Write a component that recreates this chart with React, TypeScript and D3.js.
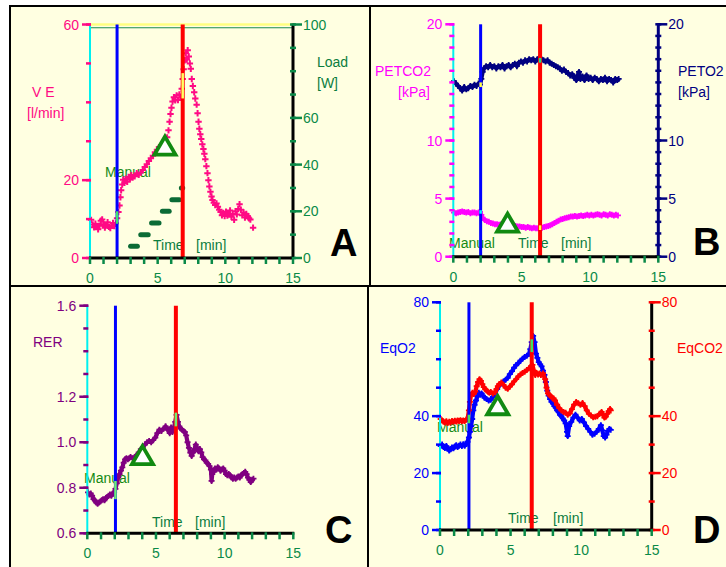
import React from "react";
import * as d3 from "d3";

// ---------- shared time axis ----------
const timeDomain: [number, number] = [0, 15];
const timeTickLabels = [0, 5, 10, 15];

// ---------- panel A : ventilation (l/min) and load (W) ----------
const veTickLabels = [0, 20, 60];
const loadTickLabels = [0, 20, 40, 60, 100];
const ve: [number, number][] = [
  [0.08, 9.8], [0.2, 8.6], [0.3, 7.9], [0.4, 8.8], [0.5, 8.1], [0.6, 7.4], [0.7, 8.3], [0.8, 9.6],
  [0.9, 9.9], [1.0, 8.7], [1.1, 7.8], [1.2, 8.5], [1.3, 9.2], [1.4, 8.0], [1.5, 7.7], [1.6, 8.4],
  [1.7, 9.0], [1.8, 8.2], [1.9, 8.9], [2.0, 10.2], [2.1, 11.8], [2.18, 13.5], [2.25, 15.6], [2.3, 17.4],
  [2.38, 18.9], [2.45, 20.1], [2.55, 19.3], [2.65, 20.4], [2.75, 19.6], [2.85, 20.8], [2.95, 20.2],
  [3.05, 21.3], [3.15, 20.7], [3.3, 21.0], [3.45, 21.8], [3.6, 21.4], [3.75, 22.0], [3.9, 22.6],
  [4.05, 23.4], [4.2, 24.1], [4.35, 24.9], [4.5, 25.6], [4.65, 26.3], [4.8, 27.2], [4.95, 27.8],
  [5.1, 28.5], [5.25, 29.0], [5.4, 29.6], [5.55, 30.4], [5.7, 31.0], [5.8, 32.8], [5.88, 35.0],
  [5.95, 37.0], [6.02, 38.6], [6.1, 40.2], [6.2, 41.3], [6.3, 40.5], [6.4, 41.8], [6.5, 40.6],
  [6.6, 42.0], [6.7, 41.2], [6.78, 43.5], [6.85, 46.0], [6.92, 48.5], [7.0, 50.8], [7.08, 52.6],
  [7.15, 51.0], [7.22, 53.4], [7.3, 51.8], [7.38, 50.0], [7.45, 48.6], [7.52, 46.0], [7.6, 44.2],
  [7.7, 42.6], [7.78, 41.0], [7.88, 39.4], [7.95, 37.2], [8.02, 35.0], [8.08, 33.2], [8.15, 31.8],
  [8.22, 30.6], [8.3, 29.2], [8.38, 28.0], [8.45, 26.8], [8.52, 25.4], [8.6, 23.6], [8.68, 21.8],
  [8.75, 20.0], [8.82, 18.4], [8.9, 17.0], [8.98, 15.8], [9.05, 14.9], [9.15, 14.2], [9.25, 13.6],
  [9.35, 14.0], [9.45, 13.2], [9.55, 12.4], [9.65, 11.8], [9.75, 11.0], [9.85, 11.6], [9.95, 10.8],
  [10.05, 11.9], [10.15, 10.9], [10.25, 11.4], [10.35, 12.2], [10.45, 10.6], [10.55, 11.3],
  [10.65, 9.8], [10.75, 12.0], [10.85, 11.2], [10.95, 12.6], [11.05, 13.8], [11.15, 12.4],
  [11.25, 11.0], [11.35, 11.7], [11.45, 10.4], [11.55, 11.3], [11.65, 10.8], [11.75, 10.2],
  [11.85, 9.9], [12.05, 7.8],
];
const loadLevels = [5, 10, 15, 20, 25, 30];
const loadStart = [3.0, 3.75, 4.55, 5.35, 6.05, 6.75];
const loadEnd = [3.5, 4.3, 5.1, 5.85, 6.6, 6.85];

// ---------- panel B : end-tidal pressures (kPa) ----------
const petTickLabels = [0, 5, 10, 20];
const peto2: [number, number][] = [
  [0.05, 15.1], [0.2, 14.9], [0.35, 14.7], [0.5, 14.5], [0.65, 14.3], [0.8, 14.6], [0.95, 14.4],
  [1.1, 14.5], [1.25, 14.7], [1.4, 14.6], [1.55, 14.8], [1.7, 14.7], [1.85, 14.9], [1.95, 14.8],
  [2.05, 15.3], [2.15, 15.9], [2.25, 16.2], [2.4, 16.4], [2.55, 16.3], [2.7, 16.5], [2.85, 16.3],
  [3.0, 16.4], [3.15, 16.2], [3.3, 16.4], [3.45, 16.3], [3.6, 16.5], [3.75, 16.2], [3.9, 16.4],
  [4.05, 16.5], [4.2, 16.3], [4.35, 16.5], [4.5, 16.6], [4.65, 16.4], [4.8, 16.7], [4.95, 16.8],
  [5.1, 16.7], [5.25, 16.9], [5.4, 16.8], [5.55, 17.0], [5.7, 16.9], [5.85, 17.0], [6.0, 16.8],
  [6.15, 17.0], [6.3, 17.1], [6.45, 17.0], [6.6, 16.9], [6.75, 16.8], [6.9, 16.9], [7.05, 16.7],
  [7.2, 16.6], [7.35, 16.5], [7.5, 16.4], [7.65, 16.3], [7.8, 16.2], [7.95, 16.0], [8.1, 16.1],
  [8.25, 15.9], [8.4, 15.8], [8.55, 15.6], [8.7, 15.7], [8.85, 15.4], [9.0, 15.2], [9.1, 15.6],
  [9.2, 15.9], [9.3, 15.3], [9.45, 15.5], [9.6, 15.2], [9.75, 15.6], [9.9, 15.3], [10.05, 15.4],
  [10.2, 15.2], [10.35, 15.4], [10.5, 15.3], [10.65, 15.1], [10.8, 15.3], [10.95, 15.2],
  [11.1, 15.4], [11.25, 15.1], [11.4, 15.3], [11.55, 15.2], [11.7, 15.0], [11.85, 15.3],
  [12.0, 15.2], [12.1, 15.3],
];
const petco2: [number, number][] = [
  [0.05, 3.8], [0.2, 3.75], [0.35, 3.8], [0.5, 3.85], [0.65, 3.9], [0.8, 3.85], [0.95, 3.8],
  [1.1, 3.85], [1.25, 3.75], [1.4, 3.8], [1.55, 3.8], [1.7, 3.75], [1.85, 3.8], [1.95, 3.85],
  [2.05, 3.6], [2.15, 3.35], [2.3, 3.15], [2.45, 3.05], [2.6, 3.0], [2.75, 2.9], [2.9, 2.85],
  [3.05, 2.8], [3.2, 2.8], [3.35, 2.75], [3.5, 2.8], [3.65, 2.75], [3.8, 2.8], [3.95, 2.75],
  [4.1, 2.7], [4.25, 2.75], [4.4, 2.7], [4.55, 2.65], [4.7, 2.6], [4.85, 2.6], [5.0, 2.55],
  [5.15, 2.55], [5.3, 2.5], [5.45, 2.55], [5.6, 2.5], [5.75, 2.45], [5.9, 2.5], [6.05, 2.45],
  [6.2, 2.45], [6.35, 2.4], [6.5, 2.5], [6.65, 2.55], [6.8, 2.6], [6.95, 2.65], [7.1, 2.7],
  [7.25, 2.8], [7.4, 2.9], [7.55, 3.0], [7.7, 3.1], [7.85, 3.2], [8.0, 3.25], [8.15, 3.3],
  [8.3, 3.35], [8.45, 3.4], [8.6, 3.45], [8.75, 3.45], [8.9, 3.5], [9.05, 3.45], [9.2, 3.5],
  [9.35, 3.55], [9.5, 3.5], [9.65, 3.55], [9.8, 3.6], [9.95, 3.55], [10.1, 3.6], [10.25, 3.55],
  [10.4, 3.6], [10.55, 3.65], [10.7, 3.6], [10.85, 3.55], [11.0, 3.65], [11.15, 3.6], [11.3, 3.55],
  [11.45, 3.65], [11.6, 3.6], [11.75, 3.55], [11.9, 3.6], [12.05, 3.55],
];

// ---------- panel C : respiratory exchange ratio ----------
const rerTickLabels = [0.6, 0.8, 1.0, 1.2, 1.6];
const rer: [number, number][] = [
  [0.05, 0.78], [0.15, 0.77], [0.25, 0.775], [0.35, 0.765], [0.45, 0.75], [0.55, 0.745],
  [0.65, 0.735], [0.75, 0.73], [0.85, 0.735], [0.95, 0.74], [1.05, 0.745], [1.15, 0.75],
  [1.25, 0.745], [1.35, 0.755], [1.45, 0.76], [1.55, 0.765], [1.65, 0.77], [1.75, 0.765],
  [1.85, 0.775], [1.95, 0.78], [2.05, 0.795], [2.15, 0.82], [2.25, 0.845], [2.35, 0.86],
  [2.45, 0.875], [2.55, 0.89], [2.65, 0.91], [2.75, 0.925], [2.85, 0.93], [2.95, 0.925],
  [3.05, 0.93], [3.15, 0.935], [3.3, 0.93], [3.45, 0.935], [3.6, 0.945], [3.75, 0.955],
  [3.9, 0.97], [4.05, 0.98], [4.2, 0.99], [4.35, 1.0], [4.5, 1.005], [4.65, 1.0], [4.8, 1.01],
  [4.95, 1.02], [5.1, 1.04], [5.25, 1.055], [5.4, 1.05], [5.55, 1.06], [5.7, 1.07], [5.85, 1.055],
  [6.0, 1.04], [6.1, 1.065], [6.2, 1.045], [6.3, 1.06], [6.4, 1.09], [6.5, 1.12], [6.6, 1.09],
  [6.7, 1.07], [6.8, 1.06], [6.9, 1.055], [7.0, 1.05], [7.1, 1.045], [7.2, 1.03], [7.3, 1.0],
  [7.4, 0.975], [7.5, 0.955], [7.6, 0.94], [7.7, 0.955], [7.8, 0.97], [7.9, 0.99], [8.0, 0.975],
  [8.1, 0.96], [8.2, 0.97], [8.3, 0.955], [8.4, 0.935], [8.5, 0.925], [8.6, 0.92], [8.7, 0.91],
  [8.8, 0.905], [8.9, 0.895], [9.0, 0.88], [9.05, 0.83], [9.1, 0.86], [9.2, 0.87], [9.3, 0.885],
  [9.4, 0.88], [9.5, 0.89], [9.6, 0.885], [9.7, 0.875], [9.8, 0.88], [9.9, 0.885], [10.0, 0.875],
  [10.1, 0.86], [10.2, 0.855], [10.3, 0.86], [10.4, 0.855], [10.5, 0.845], [10.6, 0.84],
  [10.7, 0.845], [10.8, 0.84], [10.9, 0.845], [11.0, 0.85], [11.1, 0.845], [11.2, 0.855],
  [11.3, 0.86], [11.4, 0.865], [11.5, 0.87], [11.6, 0.86], [11.7, 0.845], [11.8, 0.835],
  [11.9, 0.825], [12.0, 0.835], [12.1, 0.84],
];

// ---------- panel D : ventilatory equivalents ----------
const eqTickLabels = [0, 20, 40, 80];
const eqo2: [number, number][] = [
  [0.05, 29.5], [0.15, 30.0], [0.25, 29.2], [0.35, 28.8], [0.45, 29.5], [0.55, 28.6], [0.65, 27.9],
  [0.75, 28.4], [0.85, 29.0], [0.95, 28.7], [1.05, 29.3], [1.15, 29.8], [1.25, 29.2], [1.35, 29.6],
  [1.45, 30.0], [1.55, 29.5], [1.65, 30.1], [1.75, 29.6], [1.85, 30.2], [1.95, 31.0], [2.05, 32.5],
  [2.12, 34.5], [2.2, 36.5], [2.28, 39.0], [2.36, 42.0], [2.45, 44.0], [2.55, 45.5], [2.65, 47.0],
  [2.75, 48.2], [2.85, 47.5], [2.95, 48.0], [3.05, 47.2], [3.15, 46.5], [3.3, 46.0], [3.45, 45.5],
  [3.6, 45.8], [3.75, 46.8], [3.9, 48.0], [4.05, 49.5], [4.2, 50.8], [4.35, 51.5], [4.5, 52.2],
  [4.65, 52.8], [4.8, 53.5], [4.95, 54.8], [5.1, 55.8], [5.25, 57.0], [5.4, 58.0], [5.55, 58.6],
  [5.7, 59.5], [5.85, 60.2], [6.0, 60.8], [6.15, 61.2], [6.3, 61.8], [6.4, 63.5], [6.5, 66.0],
  [6.6, 68.2], [6.7, 66.0], [6.8, 62.0], [6.9, 60.5], [7.0, 59.0], [7.1, 58.2], [7.2, 57.5],
  [7.3, 56.0], [7.4, 54.5], [7.5, 52.0], [7.6, 49.0], [7.7, 47.2], [7.8, 46.0], [7.9, 45.0],
  [8.0, 44.5], [8.1, 43.5], [8.2, 43.0], [8.3, 42.0], [8.4, 41.5], [8.5, 40.5], [8.6, 40.0],
  [8.7, 39.2], [8.8, 38.5], [8.9, 37.5], [9.0, 34.5], [9.05, 33.0], [9.15, 36.5], [9.3, 38.0],
  [9.45, 39.5], [9.6, 40.5], [9.75, 39.5], [9.9, 38.5], [10.05, 39.0], [10.2, 37.8], [10.35, 36.5],
  [10.5, 35.5], [10.65, 34.5], [10.8, 33.5], [10.95, 33.8], [11.1, 34.5], [11.25, 35.5],
  [11.4, 36.8], [11.5, 35.0], [11.6, 33.0], [11.7, 32.5], [11.8, 33.5], [11.9, 34.8], [12.0, 35.5],
  [12.1, 35.2],
];
const eqco2: [number, number][] = [
  [0.05, 39.0], [0.15, 38.5], [0.25, 38.0], [0.35, 37.8], [0.45, 38.2], [0.55, 37.6], [0.65, 38.0],
  [0.75, 37.8], [0.85, 38.3], [0.95, 38.0], [1.05, 38.4], [1.15, 38.1], [1.25, 38.5], [1.35, 38.3],
  [1.45, 38.6], [1.55, 38.2], [1.65, 38.5], [1.75, 38.3], [1.85, 38.7], [1.95, 39.0], [2.05, 42.0],
  [2.12, 45.0], [2.2, 47.5], [2.3, 48.2], [2.4, 47.8], [2.5, 48.6], [2.6, 50.5], [2.7, 52.0],
  [2.8, 53.0], [2.9, 52.4], [3.0, 51.2], [3.1, 50.2], [3.2, 49.5], [3.3, 49.0], [3.4, 48.6],
  [3.5, 48.2], [3.6, 48.5], [3.75, 48.0], [3.9, 48.4], [4.0, 49.5], [4.1, 50.5], [4.2, 51.3],
  [4.35, 51.8], [4.5, 51.0], [4.65, 50.0], [4.8, 49.6], [4.95, 50.4], [5.1, 51.2], [5.25, 52.2],
  [5.4, 53.0], [5.55, 54.0], [5.7, 54.6], [5.85, 55.2], [6.0, 55.6], [6.15, 56.2], [6.3, 56.8],
  [6.45, 57.5], [6.55, 58.0], [6.65, 56.0], [6.75, 54.5], [6.85, 55.2], [6.95, 54.6], [7.05, 55.0],
  [7.15, 54.5], [7.3, 55.0], [7.45, 53.0], [7.55, 50.0], [7.65, 48.0], [7.75, 47.5], [7.85, 47.0],
  [7.95, 46.5], [8.05, 46.2], [8.15, 45.5], [8.3, 44.0], [8.45, 42.8], [8.6, 42.0], [8.75, 41.5],
  [8.9, 41.2], [9.05, 40.5], [9.2, 41.0], [9.35, 42.5], [9.5, 44.0], [9.65, 45.0], [9.8, 44.5],
  [9.95, 44.0], [10.1, 44.6], [10.25, 43.5], [10.4, 42.0], [10.55, 40.8], [10.7, 40.2],
  [10.85, 39.6], [11.0, 39.8], [11.15, 40.0], [11.3, 40.8], [11.45, 41.5], [11.55, 40.5],
  [11.65, 39.5], [11.75, 39.8], [11.85, 40.8], [11.95, 41.8], [12.05, 42.5], [12.1, 42.0],
];

// event times (manual start, end of test) and threshold markers per panel
const manualTimes = [2.0, 2.0, 2.05, 2.05];
const endTimes = [6.85, 6.35, 6.45, 6.5];
const thresholdTimes = [5.54, 3.97, 4.02, 4.09];
const thresholdValues = [28.5, 2.8, 0.937, 43.3];

// ---------- styling ----------
const BG = "#ffffe1";
const FONT = "'Liberation Sans', Arial, sans-serif";
const C_VE = "#ff0a84";
const C_LOAD = "#0b6b35";
const C_PETCO2 = "#ff00ff";
const C_PETO2 = "#000080";
const C_RER = "#800080";
const C_EQO2 = "#0000ff";
const C_EQCO2 = "#ff0000";
const C_AXGREEN = "#0a8a48";
const C_TXTGREEN = "#0b7d3e";
const C_MANUAL = "#158a15";

type Lin = d3.ScaleLinear<number, number>;

function Txt(props: { x: number; y: number; fill: string; size?: number; anchor?: string; bold?: boolean; children: React.ReactNode }) {
  return (
    <text
      x={props.x}
      y={props.y}
      fill={props.fill}
      fontSize={props.size ?? 14}
      fontFamily={FONT}
      fontWeight={props.bold ? "bold" : "normal"}
      textAnchor={props.anchor ?? "start"}
    >
      {props.children}
    </text>
  );
}

function TimeAxis({ x, y0 }: { x: Lin; y0: number }) {
  const ticks = d3.range(timeDomain[0], timeDomain[1] + 1, 1);
  return (
    <g>
      <line x1={x(0) - 1} x2={x(15) + 1} y1={y0} y2={y0} stroke="#000" strokeWidth={3} />
      {ticks.map((t) => (
        <line key={t} x1={x(t)} x2={x(t)} y1={y0 - 1} y2={y0 + 6} stroke={C_AXGREEN} strokeWidth={2.5} />
      ))}
      {timeTickLabels.map((t) => (
        <Txt key={t} x={x(t)} y={y0 + 25} fill={C_AXGREEN} anchor="middle">
          {t}
        </Txt>
      ))}
    </g>
  );
}

function LeftAxis(props: { x0: number; y: Lin; color: string; step: number; labels: number[]; fmt?: (v: number) => string }) {
  const { x0, y, color, step, labels } = props;
  const fmt = props.fmt ?? ((v: number) => String(v));
  const [d0, d1] = y.domain();
  const minor = d3.range(0, Math.round((d1 - d0) / step) + 1).map((i) => d0 + i * step);
  return (
    <g>
      {minor.map((v, i) => (
        <line key={i} x1={x0 - 4} x2={x0 + 1} y1={y(v)} y2={y(v)} stroke={color} strokeWidth={2.5} />
      ))}
      {labels.map((v) => (
        <g key={v}>
          <line x1={x0 - 8} x2={x0 + 1} y1={y(v)} y2={y(v)} stroke={color} strokeWidth={2.5} />
          <Txt x={x0 - 11} y={y(v) + 5} fill={color} anchor="end">
            {fmt(v)}
          </Txt>
        </g>
      ))}
    </g>
  );
}

function RightAxis(props: { x0: number; y: Lin; color: string; lineColor: string; step: number; labels: number[] }) {
  const { x0, y, color, lineColor, step, labels } = props;
  const [d0, d1] = y.domain();
  const minor = d3.range(0, Math.round((d1 - d0) / step) + 1).map((i) => d0 + i * step);
  return (
    <g>
      <line x1={x0} x2={x0} y1={y(d1) - 1} y2={y(d0) + 1} stroke={lineColor} strokeWidth={3} />
      {minor.map((v, i) => (
        <line key={i} x1={x0 - 3} x2={x0 + 3} y1={y(v)} y2={y(v)} stroke={color} strokeWidth={2.5} />
      ))}
      {labels.map((v) => (
        <g key={v}>
          <line x1={x0} x2={x0 + 9} y1={y(v)} y2={y(v)} stroke={color} strokeWidth={2.5} />
          <Txt x={x0 + 10} y={y(v) + 5} fill={color}>
            {v}
          </Txt>
        </g>
      ))}
    </g>
  );
}

function Pluses({ x, y, data, color, r = 3, w = 1.8 }: { x: Lin; y: Lin; data: [number, number][]; color: string; r?: number; w?: number }) {
  const d = data
    .map(([t, v]) => `M${x(t) - r},${y(v)}h${2 * r}M${x(t)},${y(v) - r}v${2 * r}`)
    .join("");
  return <path d={d} stroke={color} strokeWidth={w} fill="none" />;
}

function Band({ x, y, data, color }: { x: Lin; y: Lin; data: [number, number][]; color: string }) {
  const line = d3
    .line<[number, number]>()
    .x((p) => x(p[0]))
    .y((p) => y(p[1]));
  return (
    <g>
      <path d={line(data) ?? ""} stroke={color} strokeWidth={4.2} fill="none" strokeLinejoin="round" />
      <Pluses x={x} y={y} data={data} color={color} r={3} w={1.8} />
    </g>
  );
}

function EventLines({ x, top, bottom, manual, end }: { x: Lin; top: number; bottom: number; manual: number; end: number }) {
  return (
    <g>
      <line x1={x(0)} x2={x(0)} y1={top} y2={bottom} stroke="#00f0f0" strokeWidth={2} />
      <line x1={x(manual)} x2={x(manual)} y1={top} y2={bottom} stroke="#0000ff" strokeWidth={3} />
      <line x1={x(end)} x2={x(end)} y1={top} y2={bottom} stroke="#ff0000" strokeWidth={4} />
    </g>
  );
}

function Hit({ x, y, t, v0, v1, color }: { x: Lin; y: Lin; t: number; v0: number; v1: number; color: string }) {
  return <line x1={x(t)} x2={x(t)} y1={y(v0)} y2={y(v1)} stroke={color} strokeWidth={2.5} />;
}

function Threshold({ x, y, t, v }: { x: Lin; y: Lin; t: number; v: number }) {
  return (
    <path
      d="M0,-10.5L10.5,7.5L-10.5,7.5Z"
      transform={`translate(${x(t)},${y(v)})`}
      fill="#ffffff"
      stroke="#118a11"
      strokeWidth={3.8}
    />
  );
}

function PanelA() {
  const x = d3.scaleLinear().domain(timeDomain).range([90, 293]);
  const y = d3.scaleLinear().domain([0, 60]).range([258, 24.5]);
  const yLoad = d3.scaleLinear().domain([0, 100]).range([258, 24.5]);
  return (
    <g>
      <line x1={x(0)} x2={x(15)} y1={y(60)} y2={y(60)} stroke="#ffff80" strokeWidth={2.5} />
      <line x1={x(0)} x2={x(15)} y1={yLoad(98.6)} y2={yLoad(98.6)} stroke="#1a8a50" strokeWidth={1.2} />
      <Txt x={32} y={97} fill={C_VE}>V E</Txt>
      <Txt x={27} y={118} fill={C_VE}>[l/min]</Txt>
      <Txt x={317} y={67} fill={C_TXTGREEN}>Load</Txt>
      <Txt x={317} y={88} fill={C_TXTGREEN}>[W]</Txt>
      <Txt x={105} y={177} fill={C_MANUAL}>Manual</Txt>
      <Txt x={153} y={250} fill={C_TXTGREEN}>Time</Txt>
      <Txt x={196} y={250} fill={C_TXTGREEN}>[min]</Txt>
      {loadLevels.map((l, i) => (
        <line
          key={i}
          x1={x(loadStart[i])}
          x2={x(loadEnd[i])}
          y1={yLoad(l)}
          y2={yLoad(l)}
          stroke={C_LOAD}
          strokeWidth={5}
          strokeLinecap="round"
        />
      ))}
      <Pluses x={x} y={y} data={ve} color={C_VE} r={3.2} w={2} />
      <EventLines x={x} top={y(60)} bottom={y(0)} manual={manualTimes[0]} end={endTimes[0]} />
      <Hit x={x} y={y} t={manualTimes[0]} v0={8.8} v1={12} color="#40e070" />
      <Hit x={x} y={y} t={endTimes[0]} v0={41} v1={47.5} color="#ffff60" />
      <Threshold x={x} y={y} t={thresholdTimes[0]} v={thresholdValues[0]} />
      <LeftAxis x0={x(0)} y={y} color={C_VE} step={10} labels={veTickLabels} />
      <RightAxis x0={x(15)} y={yLoad} color={C_AXGREEN} lineColor="#000" step={10} labels={loadTickLabels} />
      <TimeAxis x={x} y0={y(0)} />
      <Txt x={330} y={256} fill="#000" size={38} bold>A</Txt>
    </g>
  );
}

function PanelB() {
  const x = d3.scaleLinear().domain(timeDomain).range([453.3, 658.3]);
  const y = d3.scaleLinear().domain([0, 20]).range([256.7, 24.3]);
  return (
    <g>
      <Txt x={375} y={76} fill={C_PETCO2}>PETCO2</Txt>
      <Txt x={398} y={97} fill={C_PETCO2}>[kPa]</Txt>
      <Txt x={678} y={76} fill={C_PETO2}>PETO2</Txt>
      <Txt x={678} y={97} fill={C_PETO2}>[kPa]</Txt>
      <Txt x={449} y={248} fill={C_MANUAL}>Manual</Txt>
      <Txt x={518} y={248} fill={C_TXTGREEN}>Time</Txt>
      <Txt x={561} y={248} fill={C_TXTGREEN}>[min]</Txt>
      <Band x={x} y={y} data={peto2} color={C_PETO2} />
      <Band x={x} y={y} data={petco2} color={C_PETCO2} />
      <EventLines x={x} top={y(20)} bottom={y(0)} manual={manualTimes[1]} end={endTimes[1]} />
      <Hit x={x} y={y} t={manualTimes[1]} v0={14.6} v1={15.0} color="#ffff40" />
      <Hit x={x} y={y} t={manualTimes[1]} v0={3.7} v1={4.0} color="#00ffff" />
      <Hit x={x} y={y} t={endTimes[1]} v0={16.7} v1={17.1} color="#20e080" />
      <Hit x={x} y={y} t={endTimes[1]} v0={2.3} v1={2.7} color="#ffff40" />
      <Threshold x={x} y={y} t={thresholdTimes[1]} v={thresholdValues[1]} />
      <LeftAxis x0={x(0)} y={y} color={C_PETCO2} step={1} labels={petTickLabels} />
      <RightAxis x0={x(15)} y={y} color={C_PETO2} lineColor={C_PETO2} step={1} labels={petTickLabels} />
      <TimeAxis x={x} y0={y(0)} />
      <Txt x={693} y={255} fill="#000" size={38} bold>B</Txt>
    </g>
  );
}

function PanelC() {
  const x = d3.scaleLinear().domain(timeDomain).range([87.3, 293.3]);
  const y = d3.scaleLinear().domain([0.6, 1.6]).range([533.3, 305.7]);
  return (
    <g>
      <Txt x={33} y={347} fill={C_RER}>RER</Txt>
      <Txt x={84} y={483} fill={C_MANUAL}>Manual</Txt>
      <Txt x={152} y={527} fill={C_TXTGREEN}>Time</Txt>
      <Txt x={195} y={527} fill={C_TXTGREEN}>[min]</Txt>
      <Band x={x} y={y} data={rer} color={C_RER} />
      <EventLines x={x} top={y(1.6)} bottom={y(0.6)} manual={manualTimes[2]} end={endTimes[2]} />
      <Hit x={x} y={y} t={manualTimes[2]} v0={0.75} v1={0.83} color="#70f070" />
      <Hit x={x} y={y} t={endTimes[2]} v0={1.07} v1={1.13} color="#70f070" />
      <Threshold x={x} y={y} t={thresholdTimes[2]} v={thresholdValues[2]} />
      <LeftAxis x0={x(0)} y={y} color={C_RER} step={0.1} labels={rerTickLabels} fmt={d3.format(".1f")} />
      <TimeAxis x={x} y0={y(0.6)} />
      <Txt x={325} y={543} fill="#000" size={38} bold>C</Txt>
    </g>
  );
}

function PanelD() {
  const x = d3.scaleLinear().domain(timeDomain).range([440, 651.7]);
  const y = d3.scaleLinear().domain([0, 80]).range([530, 302.3]);
  return (
    <g>
      <Txt x={380} y={353} fill={C_EQO2}>EqO2</Txt>
      <Txt x={677} y={353} fill={C_EQCO2}>EqCO2</Txt>
      <Txt x={437} y={432} fill={C_MANUAL}>Manual</Txt>
      <Txt x={508} y={523} fill={C_TXTGREEN}>Time</Txt>
      <Txt x={553} y={523} fill={C_TXTGREEN}>[min]</Txt>
      <Band x={x} y={y} data={eqo2} color={C_EQO2} />
      <Band x={x} y={y} data={eqco2} color={C_EQCO2} />
      <EventLines x={x} top={y(80)} bottom={y(0)} manual={manualTimes[3]} end={endTimes[3]} />
      <Hit x={x} y={y} t={manualTimes[3]} v0={37.5} v1={40.5} color="#40e060" />
      <Hit x={x} y={y} t={endTimes[3]} v0={62.5} v1={67} color="#40e060" />
      <Threshold x={x} y={y} t={thresholdTimes[3]} v={thresholdValues[3]} />
      <LeftAxis x0={x(0)} y={y} color={C_EQO2} step={10} labels={eqTickLabels} />
      <RightAxis x0={x(15)} y={y} color={C_EQCO2} lineColor="#000" step={10} labels={eqTickLabels} />
      <TimeAxis x={x} y0={y(0)} />
      <Txt x={693} y={543} fill="#000" size={38} bold>D</Txt>
    </g>
  );
}

export default function App() {
  return (
    <svg
      width={726}
      height={567}
      style={{ position: "absolute", left: 0, top: 0, display: "block" }}
    >
      <rect x={0} y={0} width={726} height={567} fill="#ffffff" />
      <rect x={10} y={5} width={716} height={562} fill={BG} />
      <PanelA />
      <PanelB />
      <PanelC />
      <PanelD />
      <g stroke="#000" strokeWidth={2}>
        <line x1={9} x2={726} y1={6} y2={6} />
        <line x1={10} x2={10} y1={5} y2={567} />
        <line x1={10} x2={726} y1={286} y2={286} />
        <line x1={370} x2={370} y1={5} y2={286} />
        <line x1={368} x2={368} y1={286} y2={567} />
      </g>
    </svg>
  );
}
